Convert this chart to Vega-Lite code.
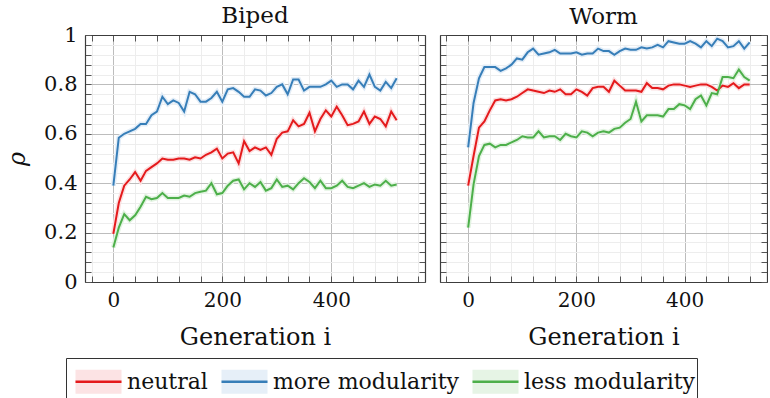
{
"$schema": "https://vega.github.io/schema/vega-lite/v6.json",
"background": "white",
"padding": {"left": 5, "top": 5, "right": 0, "bottom": 0},
"datasets": {
"pts": [
{"panel":"Biped","series":"neutral","gen":0,"rho":0.195},{"panel":"Biped","series":"neutral","gen":10,"rho":0.32},{"panel":"Biped","series":"neutral","gen":20,"rho":0.39},{"panel":"Biped","series":"neutral","gen":30,"rho":0.415},{"panel":"Biped","series":"neutral","gen":40,"rho":0.445},{"panel":"Biped","series":"neutral","gen":50,"rho":0.41},{"panel":"Biped","series":"neutral","gen":60,"rho":0.45},{"panel":"Biped","series":"neutral","gen":70,"rho":0.465},{"panel":"Biped","series":"neutral","gen":80,"rho":0.48},{"panel":"Biped","series":"neutral","gen":90,"rho":0.5},{"panel":"Biped","series":"neutral","gen":100,"rho":0.495},{"panel":"Biped","series":"neutral","gen":110,"rho":0.495},{"panel":"Biped","series":"neutral","gen":120,"rho":0.5},{"panel":"Biped","series":"neutral","gen":130,"rho":0.5},{"panel":"Biped","series":"neutral","gen":140,"rho":0.495},{"panel":"Biped","series":"neutral","gen":150,"rho":0.505},{"panel":"Biped","series":"neutral","gen":160,"rho":0.5},{"panel":"Biped","series":"neutral","gen":170,"rho":0.515},{"panel":"Biped","series":"neutral","gen":180,"rho":0.525},{"panel":"Biped","series":"neutral","gen":190,"rho":0.54},{"panel":"Biped","series":"neutral","gen":200,"rho":0.5},{"panel":"Biped","series":"neutral","gen":210,"rho":0.52},{"panel":"Biped","series":"neutral","gen":220,"rho":0.525},{"panel":"Biped","series":"neutral","gen":230,"rho":0.48},{"panel":"Biped","series":"neutral","gen":240,"rho":0.57},{"panel":"Biped","series":"neutral","gen":250,"rho":0.53},{"panel":"Biped","series":"neutral","gen":260,"rho":0.545},{"panel":"Biped","series":"neutral","gen":270,"rho":0.535},{"panel":"Biped","series":"neutral","gen":280,"rho":0.545},{"panel":"Biped","series":"neutral","gen":290,"rho":0.515},{"panel":"Biped","series":"neutral","gen":300,"rho":0.58},{"panel":"Biped","series":"neutral","gen":310,"rho":0.605},{"panel":"Biped","series":"neutral","gen":320,"rho":0.61},{"panel":"Biped","series":"neutral","gen":330,"rho":0.655},{"panel":"Biped","series":"neutral","gen":340,"rho":0.63},{"panel":"Biped","series":"neutral","gen":350,"rho":0.64},{"panel":"Biped","series":"neutral","gen":360,"rho":0.685},{"panel":"Biped","series":"neutral","gen":370,"rho":0.61},{"panel":"Biped","series":"neutral","gen":380,"rho":0.66},{"panel":"Biped","series":"neutral","gen":390,"rho":0.695},{"panel":"Biped","series":"neutral","gen":400,"rho":0.67},{"panel":"Biped","series":"neutral","gen":410,"rho":0.71},{"panel":"Biped","series":"neutral","gen":420,"rho":0.675},{"panel":"Biped","series":"neutral","gen":430,"rho":0.635},{"panel":"Biped","series":"neutral","gen":440,"rho":0.64},{"panel":"Biped","series":"neutral","gen":450,"rho":0.65},{"panel":"Biped","series":"neutral","gen":460,"rho":0.69},{"panel":"Biped","series":"neutral","gen":470,"rho":0.64},{"panel":"Biped","series":"neutral","gen":480,"rho":0.67},{"panel":"Biped","series":"neutral","gen":490,"rho":0.66},{"panel":"Biped","series":"neutral","gen":500,"rho":0.63},{"panel":"Biped","series":"neutral","gen":510,"rho":0.69},{"panel":"Biped","series":"neutral","gen":520,"rho":0.655},
{"panel":"Biped","series":"more modularity","gen":0,"rho":0.39},{"panel":"Biped","series":"more modularity","gen":10,"rho":0.584},{"panel":"Biped","series":"more modularity","gen":20,"rho":0.6},{"panel":"Biped","series":"more modularity","gen":30,"rho":0.61},{"panel":"Biped","series":"more modularity","gen":40,"rho":0.62},{"panel":"Biped","series":"more modularity","gen":50,"rho":0.64},{"panel":"Biped","series":"more modularity","gen":60,"rho":0.64},{"panel":"Biped","series":"more modularity","gen":70,"rho":0.675},{"panel":"Biped","series":"more modularity","gen":80,"rho":0.69},{"panel":"Biped","series":"more modularity","gen":90,"rho":0.75},{"panel":"Biped","series":"more modularity","gen":100,"rho":0.72},{"panel":"Biped","series":"more modularity","gen":110,"rho":0.735},{"panel":"Biped","series":"more modularity","gen":120,"rho":0.725},{"panel":"Biped","series":"more modularity","gen":130,"rho":0.69},{"panel":"Biped","series":"more modularity","gen":140,"rho":0.77},{"panel":"Biped","series":"more modularity","gen":150,"rho":0.76},{"panel":"Biped","series":"more modularity","gen":160,"rho":0.73},{"panel":"Biped","series":"more modularity","gen":170,"rho":0.73},{"panel":"Biped","series":"more modularity","gen":180,"rho":0.745},{"panel":"Biped","series":"more modularity","gen":190,"rho":0.77},{"panel":"Biped","series":"more modularity","gen":200,"rho":0.73},{"panel":"Biped","series":"more modularity","gen":210,"rho":0.78},{"panel":"Biped","series":"more modularity","gen":220,"rho":0.785},{"panel":"Biped","series":"more modularity","gen":230,"rho":0.77},{"panel":"Biped","series":"more modularity","gen":240,"rho":0.75},{"panel":"Biped","series":"more modularity","gen":250,"rho":0.75},{"panel":"Biped","series":"more modularity","gen":260,"rho":0.78},{"panel":"Biped","series":"more modularity","gen":270,"rho":0.775},{"panel":"Biped","series":"more modularity","gen":280,"rho":0.755},{"panel":"Biped","series":"more modularity","gen":290,"rho":0.765},{"panel":"Biped","series":"more modularity","gen":300,"rho":0.79},{"panel":"Biped","series":"more modularity","gen":310,"rho":0.8},{"panel":"Biped","series":"more modularity","gen":320,"rho":0.76},{"panel":"Biped","series":"more modularity","gen":330,"rho":0.82},{"panel":"Biped","series":"more modularity","gen":340,"rho":0.82},{"panel":"Biped","series":"more modularity","gen":350,"rho":0.775},{"panel":"Biped","series":"more modularity","gen":360,"rho":0.79},{"panel":"Biped","series":"more modularity","gen":370,"rho":0.79},{"panel":"Biped","series":"more modularity","gen":380,"rho":0.79},{"panel":"Biped","series":"more modularity","gen":390,"rho":0.8},{"panel":"Biped","series":"more modularity","gen":400,"rho":0.815},{"panel":"Biped","series":"more modularity","gen":410,"rho":0.79},{"panel":"Biped","series":"more modularity","gen":420,"rho":0.8},{"panel":"Biped","series":"more modularity","gen":430,"rho":0.8},{"panel":"Biped","series":"more modularity","gen":440,"rho":0.78},{"panel":"Biped","series":"more modularity","gen":450,"rho":0.815},{"panel":"Biped","series":"more modularity","gen":460,"rho":0.79},{"panel":"Biped","series":"more modularity","gen":470,"rho":0.84},{"panel":"Biped","series":"more modularity","gen":480,"rho":0.79},{"panel":"Biped","series":"more modularity","gen":490,"rho":0.775},{"panel":"Biped","series":"more modularity","gen":500,"rho":0.81},{"panel":"Biped","series":"more modularity","gen":510,"rho":0.785},{"panel":"Biped","series":"more modularity","gen":520,"rho":0.825},
{"panel":"Biped","series":"less modularity","gen":0,"rho":0.14},{"panel":"Biped","series":"less modularity","gen":10,"rho":0.22},{"panel":"Biped","series":"less modularity","gen":20,"rho":0.275},{"panel":"Biped","series":"less modularity","gen":30,"rho":0.25},{"panel":"Biped","series":"less modularity","gen":40,"rho":0.27},{"panel":"Biped","series":"less modularity","gen":50,"rho":0.305},{"panel":"Biped","series":"less modularity","gen":60,"rho":0.345},{"panel":"Biped","series":"less modularity","gen":70,"rho":0.335},{"panel":"Biped","series":"less modularity","gen":80,"rho":0.34},{"panel":"Biped","series":"less modularity","gen":90,"rho":0.36},{"panel":"Biped","series":"less modularity","gen":100,"rho":0.34},{"panel":"Biped","series":"less modularity","gen":110,"rho":0.34},{"panel":"Biped","series":"less modularity","gen":120,"rho":0.34},{"panel":"Biped","series":"less modularity","gen":130,"rho":0.35},{"panel":"Biped","series":"less modularity","gen":140,"rho":0.345},{"panel":"Biped","series":"less modularity","gen":150,"rho":0.36},{"panel":"Biped","series":"less modularity","gen":160,"rho":0.365},{"panel":"Biped","series":"less modularity","gen":170,"rho":0.37},{"panel":"Biped","series":"less modularity","gen":180,"rho":0.4},{"panel":"Biped","series":"less modularity","gen":190,"rho":0.355},{"panel":"Biped","series":"less modularity","gen":200,"rho":0.36},{"panel":"Biped","series":"less modularity","gen":210,"rho":0.39},{"panel":"Biped","series":"less modularity","gen":220,"rho":0.41},{"panel":"Biped","series":"less modularity","gen":230,"rho":0.415},{"panel":"Biped","series":"less modularity","gen":240,"rho":0.375},{"panel":"Biped","series":"less modularity","gen":250,"rho":0.4},{"panel":"Biped","series":"less modularity","gen":260,"rho":0.385},{"panel":"Biped","series":"less modularity","gen":270,"rho":0.405},{"panel":"Biped","series":"less modularity","gen":280,"rho":0.37},{"panel":"Biped","series":"less modularity","gen":290,"rho":0.38},{"panel":"Biped","series":"less modularity","gen":300,"rho":0.415},{"panel":"Biped","series":"less modularity","gen":310,"rho":0.385},{"panel":"Biped","series":"less modularity","gen":320,"rho":0.39},{"panel":"Biped","series":"less modularity","gen":330,"rho":0.375},{"panel":"Biped","series":"less modularity","gen":340,"rho":0.4},{"panel":"Biped","series":"less modularity","gen":350,"rho":0.42},{"panel":"Biped","series":"less modularity","gen":360,"rho":0.405},{"panel":"Biped","series":"less modularity","gen":370,"rho":0.38},{"panel":"Biped","series":"less modularity","gen":380,"rho":0.41},{"panel":"Biped","series":"less modularity","gen":390,"rho":0.38},{"panel":"Biped","series":"less modularity","gen":400,"rho":0.38},{"panel":"Biped","series":"less modularity","gen":410,"rho":0.39},{"panel":"Biped","series":"less modularity","gen":420,"rho":0.41},{"panel":"Biped","series":"less modularity","gen":430,"rho":0.385},{"panel":"Biped","series":"less modularity","gen":440,"rho":0.38},{"panel":"Biped","series":"less modularity","gen":450,"rho":0.39},{"panel":"Biped","series":"less modularity","gen":460,"rho":0.4},{"panel":"Biped","series":"less modularity","gen":470,"rho":0.385},{"panel":"Biped","series":"less modularity","gen":480,"rho":0.395},{"panel":"Biped","series":"less modularity","gen":490,"rho":0.39},{"panel":"Biped","series":"less modularity","gen":500,"rho":0.41},{"panel":"Biped","series":"less modularity","gen":510,"rho":0.39},{"panel":"Biped","series":"less modularity","gen":520,"rho":0.395},
{"panel":"Worm","series":"neutral","gen":0,"rho":0.39},{"panel":"Worm","series":"neutral","gen":10,"rho":0.51},{"panel":"Worm","series":"neutral","gen":20,"rho":0.625},{"panel":"Worm","series":"neutral","gen":30,"rho":0.65},{"panel":"Worm","series":"neutral","gen":40,"rho":0.695},{"panel":"Worm","series":"neutral","gen":50,"rho":0.735},{"panel":"Worm","series":"neutral","gen":60,"rho":0.74},{"panel":"Worm","series":"neutral","gen":70,"rho":0.735},{"panel":"Worm","series":"neutral","gen":80,"rho":0.74},{"panel":"Worm","series":"neutral","gen":90,"rho":0.75},{"panel":"Worm","series":"neutral","gen":100,"rho":0.765},{"panel":"Worm","series":"neutral","gen":110,"rho":0.78},{"panel":"Worm","series":"neutral","gen":120,"rho":0.775},{"panel":"Worm","series":"neutral","gen":130,"rho":0.77},{"panel":"Worm","series":"neutral","gen":140,"rho":0.765},{"panel":"Worm","series":"neutral","gen":150,"rho":0.775},{"panel":"Worm","series":"neutral","gen":160,"rho":0.77},{"panel":"Worm","series":"neutral","gen":170,"rho":0.78},{"panel":"Worm","series":"neutral","gen":180,"rho":0.76},{"panel":"Worm","series":"neutral","gen":190,"rho":0.76},{"panel":"Worm","series":"neutral","gen":200,"rho":0.78},{"panel":"Worm","series":"neutral","gen":210,"rho":0.77},{"panel":"Worm","series":"neutral","gen":220,"rho":0.755},{"panel":"Worm","series":"neutral","gen":230,"rho":0.785},{"panel":"Worm","series":"neutral","gen":240,"rho":0.79},{"panel":"Worm","series":"neutral","gen":250,"rho":0.79},{"panel":"Worm","series":"neutral","gen":260,"rho":0.77},{"panel":"Worm","series":"neutral","gen":270,"rho":0.815},{"panel":"Worm","series":"neutral","gen":280,"rho":0.795},{"panel":"Worm","series":"neutral","gen":290,"rho":0.775},{"panel":"Worm","series":"neutral","gen":300,"rho":0.775},{"panel":"Worm","series":"neutral","gen":310,"rho":0.775},{"panel":"Worm","series":"neutral","gen":320,"rho":0.77},{"panel":"Worm","series":"neutral","gen":330,"rho":0.805},{"panel":"Worm","series":"neutral","gen":340,"rho":0.785},{"panel":"Worm","series":"neutral","gen":350,"rho":0.785},{"panel":"Worm","series":"neutral","gen":360,"rho":0.78},{"panel":"Worm","series":"neutral","gen":370,"rho":0.795},{"panel":"Worm","series":"neutral","gen":380,"rho":0.8},{"panel":"Worm","series":"neutral","gen":390,"rho":0.8},{"panel":"Worm","series":"neutral","gen":400,"rho":0.795},{"panel":"Worm","series":"neutral","gen":410,"rho":0.79},{"panel":"Worm","series":"neutral","gen":420,"rho":0.795},{"panel":"Worm","series":"neutral","gen":430,"rho":0.8},{"panel":"Worm","series":"neutral","gen":440,"rho":0.8},{"panel":"Worm","series":"neutral","gen":450,"rho":0.79},{"panel":"Worm","series":"neutral","gen":460,"rho":0.775},{"panel":"Worm","series":"neutral","gen":470,"rho":0.795},{"panel":"Worm","series":"neutral","gen":480,"rho":0.79},{"panel":"Worm","series":"neutral","gen":490,"rho":0.805},{"panel":"Worm","series":"neutral","gen":500,"rho":0.785},{"panel":"Worm","series":"neutral","gen":510,"rho":0.8},{"panel":"Worm","series":"neutral","gen":520,"rho":0.8},
{"panel":"Worm","series":"more modularity","gen":0,"rho":0.545},{"panel":"Worm","series":"more modularity","gen":10,"rho":0.725},{"panel":"Worm","series":"more modularity","gen":20,"rho":0.825},{"panel":"Worm","series":"more modularity","gen":30,"rho":0.87},{"panel":"Worm","series":"more modularity","gen":40,"rho":0.87},{"panel":"Worm","series":"more modularity","gen":50,"rho":0.87},{"panel":"Worm","series":"more modularity","gen":60,"rho":0.855},{"panel":"Worm","series":"more modularity","gen":70,"rho":0.865},{"panel":"Worm","series":"more modularity","gen":80,"rho":0.88},{"panel":"Worm","series":"more modularity","gen":90,"rho":0.905},{"panel":"Worm","series":"more modularity","gen":100,"rho":0.9},{"panel":"Worm","series":"more modularity","gen":110,"rho":0.93},{"panel":"Worm","series":"more modularity","gen":120,"rho":0.945},{"panel":"Worm","series":"more modularity","gen":130,"rho":0.92},{"panel":"Worm","series":"more modularity","gen":140,"rho":0.925},{"panel":"Worm","series":"more modularity","gen":150,"rho":0.93},{"panel":"Worm","series":"more modularity","gen":160,"rho":0.94},{"panel":"Worm","series":"more modularity","gen":170,"rho":0.925},{"panel":"Worm","series":"more modularity","gen":180,"rho":0.925},{"panel":"Worm","series":"more modularity","gen":190,"rho":0.925},{"panel":"Worm","series":"more modularity","gen":200,"rho":0.93},{"panel":"Worm","series":"more modularity","gen":210,"rho":0.92},{"panel":"Worm","series":"more modularity","gen":220,"rho":0.925},{"panel":"Worm","series":"more modularity","gen":230,"rho":0.925},{"panel":"Worm","series":"more modularity","gen":240,"rho":0.945},{"panel":"Worm","series":"more modularity","gen":250,"rho":0.935},{"panel":"Worm","series":"more modularity","gen":260,"rho":0.935},{"panel":"Worm","series":"more modularity","gen":270,"rho":0.92},{"panel":"Worm","series":"more modularity","gen":280,"rho":0.935},{"panel":"Worm","series":"more modularity","gen":290,"rho":0.945},{"panel":"Worm","series":"more modularity","gen":300,"rho":0.94},{"panel":"Worm","series":"more modularity","gen":310,"rho":0.94},{"panel":"Worm","series":"more modularity","gen":320,"rho":0.95},{"panel":"Worm","series":"more modularity","gen":330,"rho":0.945},{"panel":"Worm","series":"more modularity","gen":340,"rho":0.95},{"panel":"Worm","series":"more modularity","gen":350,"rho":0.96},{"panel":"Worm","series":"more modularity","gen":360,"rho":0.95},{"panel":"Worm","series":"more modularity","gen":370,"rho":0.975},{"panel":"Worm","series":"more modularity","gen":380,"rho":0.97},{"panel":"Worm","series":"more modularity","gen":390,"rho":0.965},{"panel":"Worm","series":"more modularity","gen":400,"rho":0.965},{"panel":"Worm","series":"more modularity","gen":410,"rho":0.975},{"panel":"Worm","series":"more modularity","gen":420,"rho":0.965},{"panel":"Worm","series":"more modularity","gen":430,"rho":0.95},{"panel":"Worm","series":"more modularity","gen":440,"rho":0.975},{"panel":"Worm","series":"more modularity","gen":450,"rho":0.955},{"panel":"Worm","series":"more modularity","gen":460,"rho":0.985},{"panel":"Worm","series":"more modularity","gen":470,"rho":0.975},{"panel":"Worm","series":"more modularity","gen":480,"rho":0.95},{"panel":"Worm","series":"more modularity","gen":490,"rho":0.955},{"panel":"Worm","series":"more modularity","gen":500,"rho":0.975},{"panel":"Worm","series":"more modularity","gen":510,"rho":0.945},{"panel":"Worm","series":"more modularity","gen":520,"rho":0.97},
{"panel":"Worm","series":"less modularity","gen":0,"rho":0.22},{"panel":"Worm","series":"less modularity","gen":10,"rho":0.395},{"panel":"Worm","series":"less modularity","gen":20,"rho":0.51},{"panel":"Worm","series":"less modularity","gen":30,"rho":0.555},{"panel":"Worm","series":"less modularity","gen":40,"rho":0.56},{"panel":"Worm","series":"less modularity","gen":50,"rho":0.545},{"panel":"Worm","series":"less modularity","gen":60,"rho":0.555},{"panel":"Worm","series":"less modularity","gen":70,"rho":0.555},{"panel":"Worm","series":"less modularity","gen":80,"rho":0.565},{"panel":"Worm","series":"less modularity","gen":90,"rho":0.575},{"panel":"Worm","series":"less modularity","gen":100,"rho":0.59},{"panel":"Worm","series":"less modularity","gen":110,"rho":0.585},{"panel":"Worm","series":"less modularity","gen":120,"rho":0.585},{"panel":"Worm","series":"less modularity","gen":130,"rho":0.61},{"panel":"Worm","series":"less modularity","gen":140,"rho":0.585},{"panel":"Worm","series":"less modularity","gen":150,"rho":0.59},{"panel":"Worm","series":"less modularity","gen":160,"rho":0.59},{"panel":"Worm","series":"less modularity","gen":170,"rho":0.575},{"panel":"Worm","series":"less modularity","gen":180,"rho":0.6},{"panel":"Worm","series":"less modularity","gen":190,"rho":0.59},{"panel":"Worm","series":"less modularity","gen":200,"rho":0.585},{"panel":"Worm","series":"less modularity","gen":210,"rho":0.61},{"panel":"Worm","series":"less modularity","gen":220,"rho":0.605},{"panel":"Worm","series":"less modularity","gen":230,"rho":0.59},{"panel":"Worm","series":"less modularity","gen":240,"rho":0.605},{"panel":"Worm","series":"less modularity","gen":250,"rho":0.61},{"panel":"Worm","series":"less modularity","gen":260,"rho":0.605},{"panel":"Worm","series":"less modularity","gen":270,"rho":0.62},{"panel":"Worm","series":"less modularity","gen":280,"rho":0.625},{"panel":"Worm","series":"less modularity","gen":290,"rho":0.645},{"panel":"Worm","series":"less modularity","gen":300,"rho":0.66},{"panel":"Worm","series":"less modularity","gen":310,"rho":0.73},{"panel":"Worm","series":"less modularity","gen":320,"rho":0.65},{"panel":"Worm","series":"less modularity","gen":330,"rho":0.675},{"panel":"Worm","series":"less modularity","gen":340,"rho":0.675},{"panel":"Worm","series":"less modularity","gen":350,"rho":0.675},{"panel":"Worm","series":"less modularity","gen":360,"rho":0.67},{"panel":"Worm","series":"less modularity","gen":370,"rho":0.7},{"panel":"Worm","series":"less modularity","gen":380,"rho":0.7},{"panel":"Worm","series":"less modularity","gen":390,"rho":0.72},{"panel":"Worm","series":"less modularity","gen":400,"rho":0.715},{"panel":"Worm","series":"less modularity","gen":410,"rho":0.7},{"panel":"Worm","series":"less modularity","gen":420,"rho":0.74},{"panel":"Worm","series":"less modularity","gen":430,"rho":0.755},{"panel":"Worm","series":"less modularity","gen":440,"rho":0.715},{"panel":"Worm","series":"less modularity","gen":450,"rho":0.765},{"panel":"Worm","series":"less modularity","gen":460,"rho":0.76},{"panel":"Worm","series":"less modularity","gen":470,"rho":0.83},{"panel":"Worm","series":"less modularity","gen":480,"rho":0.83},{"panel":"Worm","series":"less modularity","gen":490,"rho":0.825},{"panel":"Worm","series":"less modularity","gen":500,"rho":0.86},{"panel":"Worm","series":"less modularity","gen":510,"rho":0.83},{"panel":"Worm","series":"less modularity","gen":520,"rho":0.815}
]
},
"data": {"name": "pts"},
"config": {
  "font": "DejaVu Serif",
  "view": {"stroke": null},
  "axis": {"labelFont": "DejaVu Serif", "titleFont": "DejaVu Serif", "labelFontSize": 20, "titleFontSize": 24, "titleFontWeight": "normal", "labelColor": "#111", "titleColor": "#111", "domainColor": "#3c3c3c", "domainWidth": 1.2, "tickColor": "#555", "tickWidth": 1, "labelOverlap": false, "labelFlush": false},
  "title": {"font": "DejaVu Serif", "fontSize": 23, "fontWeight": "normal", "color": "#111", "offset": -5},
  "legend": {"labelFont": "DejaVu Serif", "labelFontSize": 22, "labelColor": "#111", "labelLimit": 400}
},
"bounds": "flush",
"spacing": 15,
"hconcat": [
{
  "title": {"text": "Biped", "dy": -1},
  "width": 340, "height": 247,
  "transform": [{"filter": "datum.panel === 'Biped'"}],
  "layer": [
    {"mark": {"type": "line", "strokeWidth": 5},
     "encoding": {
       "x": {"field": "gen", "type": "quantitative", "scale": {"domain": [-52, 572], "nice": false, "zero": false},
             "axis": {"orient": "bottom", "values": [-40,0,40,80,120,160,200,240,280,320,360,400,440,480,520,560], "labelExpr": "datum.value % 200 === 0 ? format(datum.value, 'd') : ''", "grid": true, "gridColor": {"condition": {"test": "datum.value % 200 === 0", "value": "#bdbdbd"}, "value": "#ededed"}, "tickSize": -6, "labelPadding": 14, "title": "Generation i", "titlePadding": 15}},
       "y": {"field": "rho", "type": "quantitative", "scale": {"domain": [0, 1], "nice": false},
             "axis": {"orient": "left", "values": [0,0.04,0.08,0.12,0.16,0.2,0.24,0.28,0.32,0.36,0.4,0.44,0.48,0.52,0.56,0.6,0.64,0.68,0.72,0.76,0.8,0.84,0.88,0.92,0.96,1], "labelExpr": "abs(datum.value*5 - round(datum.value*5)) < 0.001 ? format(datum.value, '.1~f') : ''", "grid": true, "gridColor": {"condition": {"test": "abs(datum.value*5 - round(datum.value*5)) < 0.001", "value": "#bdbdbd"}, "value": "#ededed"}, "tickSize": -6, "labelPadding": 14, "labelFontSize": 21, "title": "ρ", "titleFontStyle": "italic", "titleFontSize": 24, "titlePadding": 14}},
       "color": {"field": "series", "type": "nominal", "scale": {"domain": ["neutral", "more modularity", "less modularity"], "range": ["#fbe0e1", "#e3edf7", "#e2f3e1"]}, "legend": null}
     }},
    {"mark": {"type": "line", "strokeWidth": 2},
     "encoding": {
       "x": {"field": "gen", "type": "quantitative",
             "axis": {"orient": "top", "values": [-40,0,40,80,120,160,200,240,280,320,360,400,440,480,520,560], "labels": false, "grid": false, "tickSize": -6, "title": null}},
       "y": {"field": "rho", "type": "quantitative",
             "axis": {"orient": "right", "values": [0,0.04,0.08,0.12,0.16,0.2,0.24,0.28,0.32,0.36,0.4,0.44,0.48,0.52,0.56,0.6,0.64,0.68,0.72,0.76,0.8,0.84,0.88,0.92,0.96,1], "labels": false, "grid": false, "tickSize": -6, "title": null}},
       "stroke": {"field": "series", "type": "nominal", "sort": ["neutral", "more modularity", "less modularity"], "scale": {"range": ["#e41a1c", "#377eb8", "#4daf4a"]},
                  "legend": {"orient": "none", "legendX": -19, "legendY": 323, "direction": "horizontal", "columns": 3, "title": null,
                             "symbolType": "M-1.15,0H1.15V-0.6H-1.15V0.6H1.15V0Z", "symbolSize": 1600, "symbolStrokeWidth": 2.5, "symbolDash": [46, 3000], "symbolOffset": 9, "symbolOpacity": 1,
                             "strokeColor": "#333", "padding": 2, "columnPadding": 6, "labelOffset": 7,
                             "encode": {"symbols": {"update": {"fill": {"signal": "datum.value === 'neutral' ? '#fce3e4' : datum.value === 'more modularity' ? '#e6eff8' : '#e6f4e5'"}, "fillOpacity": {"value": 1}, "opacity": {"value": 1}}}}}}
     }}
  ],
  "resolve": {"axis": {"x": "independent", "y": "independent"}}
},
{
  "title": {"text": "Worm", "dy": -5},
  "width": 327, "height": 247,
  "transform": [{"filter": "datum.panel === 'Worm'"}],
  "layer": [
    {"mark": {"type": "line", "strokeWidth": 5},
     "encoding": {
       "x": {"field": "gen", "type": "quantitative", "scale": {"domain": [-52, 552], "nice": false, "zero": false},
             "axis": {"orient": "bottom", "values": [-40,0,40,80,120,160,200,240,280,320,360,400,440,480,520], "labelExpr": "datum.value % 200 === 0 ? format(datum.value, 'd') : ''", "grid": true, "gridColor": {"condition": {"test": "datum.value % 200 === 0", "value": "#bdbdbd"}, "value": "#ededed"}, "tickSize": -6, "labelPadding": 14, "title": "Generation i", "titlePadding": 15}},
       "y": {"field": "rho", "type": "quantitative", "scale": {"domain": [0, 1], "nice": false},
             "axis": {"orient": "left", "values": [0,0.04,0.08,0.12,0.16,0.2,0.24,0.28,0.32,0.36,0.4,0.44,0.48,0.52,0.56,0.6,0.64,0.68,0.72,0.76,0.8,0.84,0.88,0.92,0.96,1], "labels": false, "grid": true, "gridColor": {"condition": {"test": "abs(datum.value*5 - round(datum.value*5)) < 0.001", "value": "#bdbdbd"}, "value": "#ededed"}, "tickSize": -6, "title": null}},
       "color": {"field": "series", "type": "nominal", "scale": {"domain": ["neutral", "more modularity", "less modularity"], "range": ["#fbe0e1", "#e3edf7", "#e2f3e1"]}, "legend": null}
     }},
    {"mark": {"type": "line", "strokeWidth": 2},
     "encoding": {
       "x": {"field": "gen", "type": "quantitative",
             "axis": {"orient": "top", "values": [-40,0,40,80,120,160,200,240,280,320,360,400,440,480,520], "labels": false, "grid": false, "tickSize": -6, "title": null}},
       "y": {"field": "rho", "type": "quantitative",
             "axis": {"orient": "right", "values": [0,0.04,0.08,0.12,0.16,0.2,0.24,0.28,0.32,0.36,0.4,0.44,0.48,0.52,0.56,0.6,0.64,0.68,0.72,0.76,0.8,0.84,0.88,0.92,0.96,1], "labels": false, "grid": false, "tickSize": -6, "title": null}},
       "stroke": {"field": "series", "type": "nominal", "sort": ["neutral", "more modularity", "less modularity"], "scale": {"range": ["#e41a1c", "#377eb8", "#4daf4a"]},
                  "legend": {"orient": "none", "legendX": -19, "legendY": 323, "direction": "horizontal", "columns": 3, "title": null,
                             "symbolType": "M-1.15,0H1.15V-0.6H-1.15V0.6H1.15V0Z", "symbolSize": 1600, "symbolStrokeWidth": 2.5, "symbolDash": [46, 3000], "symbolOffset": 9, "symbolOpacity": 1,
                             "strokeColor": "#333", "padding": 2, "columnPadding": 6, "labelOffset": 7,
                             "encode": {"symbols": {"update": {"fill": {"signal": "datum.value === 'neutral' ? '#fce3e4' : datum.value === 'more modularity' ? '#e6eff8' : '#e6f4e5'"}, "fillOpacity": {"value": 1}, "opacity": {"value": 1}}}}}}
     }}
  ],
  "resolve": {"axis": {"x": "independent", "y": "independent"}}
}
]
}
